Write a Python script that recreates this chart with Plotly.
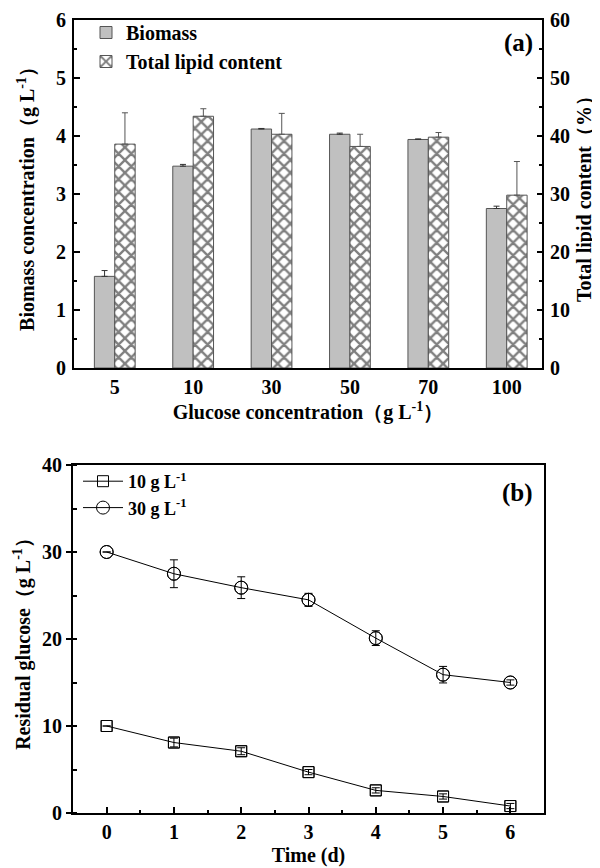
import plotly.graph_objects as go

# ---- Data: panel (a)
glucose_cats = ["5", "10", "30", "50", "70", "100"]
biomass = [1.58, 3.48, 4.12, 4.03, 3.94, 2.75]
biomass_err = [0.10, 0.03, 0.01, 0.02, 0.01, 0.04]
lipid = [38.6, 43.4, 40.3, 38.2, 39.8, 29.8]
lipid_err = [5.4, 1.3, 3.6, 2.1, 0.8, 5.8]

# ---- Data: panel (b)
days = [0, 1, 2, 3, 4, 5, 6]
glc10 = [10.0, 8.1, 7.1, 4.7, 2.6, 1.9, 0.8]
glc10_err = [0.0, 0.5, 0.4, 0.3, 0.3, 0.3, 0.3]
glc30 = [30.0, 27.5, 25.9, 24.5, 20.1, 15.9, 15.0]
glc30_err = [0.0, 1.6, 1.25, 0.75, 0.85, 0.95, 0.3]

FONT = "Liberation Serif"
fig = go.Figure()

fig.add_trace(go.Bar(
    x=glucose_cats, y=biomass, name="<b>Biomass</b>",
    xaxis="x", yaxis="y", width=0.26, offset=-0.26,
    marker=dict(color="#c0c0c0", line=dict(color="#555555", width=1)),
    error_y=dict(type="data", array=biomass_err, arrayminus=[0]*6, symmetric=False,
                 color="#333333", thickness=1, width=3),
    legend="legend",
))
fig.add_trace(go.Bar(
    x=glucose_cats, y=lipid, name="<b>Total lipid content</b>",
    xaxis="x", yaxis="y2", width=0.26, offset=0,
    marker=dict(color="white", line=dict(color="#555555", width=1),
                pattern=dict(shape="x", fgcolor="black", bgcolor="white", size=9, solidity=0.45)),
    error_y=dict(type="data", array=lipid_err, arrayminus=[0]*6, symmetric=False,
                 color="#555555", thickness=1, width=3),
    legend="legend",
))

# error bars as separate (legend-less) traces so the legend symbols stay clean
for yv, ev, sym, sz in [(glc10, glc10_err, "square-open", 11), (glc30, glc30_err, "circle-open", 13)]:
    fig.add_trace(go.Scatter(
        x=days, y=yv, mode="markers", showlegend=False, hoverinfo="skip",
        xaxis="x2", yaxis="y3",
        marker=dict(symbol=sym, size=sz, color="black", line=dict(width=1)),
        error_y=dict(type="data", array=ev, color="black", thickness=1, width=4),
    ))

fig.add_trace(go.Scatter(
    x=days, y=glc10, name="<b>10 g L<sup>-1</sup></b>", mode="lines+markers",
    xaxis="x2", yaxis="y3",
    line=dict(color="black", width=1),
    marker=dict(symbol="square-open", size=11, color="black", line=dict(width=1)),
    legend="legend2",
))
fig.add_trace(go.Scatter(
    x=days, y=glc30, name="<b>30 g L<sup>-1</sup></b>", mode="lines+markers",
    xaxis="x2", yaxis="y3",
    line=dict(color="black", width=1),
    marker=dict(symbol="circle-open", size=13, color="black", line=dict(width=1)),
    legend="legend2",
))

H = 868.0
W = 600.0
top_dom = [1 - 360 / H, 1 - 12 / H]
bot_dom = [1 - 805 / H, 1 - 457 / H]

tickfont = dict(family=FONT, size=20, color="black", weight="bold")
titlefont = dict(family=FONT, size=20, color="black", weight="bold")

fig.update_layout(
    width=600, height=868,
    margin=dict(l=0, r=0, t=0, b=0),
    paper_bgcolor="white", plot_bgcolor="white",
    barmode="overlay",
    font=dict(family=FONT, color="black"),
    xaxis=dict(
        domain=[66 / W, 534 / W], anchor="y", type="category",
        range=[-0.52, 5.45],
        showline=True, linecolor="black", linewidth=2, mirror=True,
        ticks="", showgrid=False, tickfont=tickfont,
        title=dict(text="<b>Glucose concentration（g L<sup>-1</sup>）</b>", font=titlefont, standoff=8),
        automargin=False,
    ),
    yaxis=dict(
        domain=top_dom, anchor="x", range=[0, 6], dtick=1,
        showline=True, linecolor="black", linewidth=2,
        ticks="inside", ticklen=6, tickwidth=2, tickcolor="black",
        minor=dict(dtick=0.5, ticks="inside", ticklen=3, tickcolor="black", tickwidth=2),
        showgrid=False, zeroline=False, tickfont=tickfont, ticklabelstandoff=2,
        title=dict(text="<b>Biomass concentration（g L<sup>-1</sup>）</b>", font=titlefont, standoff=16),
        automargin=False,
    ),
    yaxis2=dict(
        overlaying="y", side="right", anchor="x", range=[0, 60], dtick=10,
        showline=True, linecolor="black", linewidth=2,
        ticks="inside", ticklen=5, tickwidth=2, tickcolor="black",
        minor=dict(dtick=5, ticks="inside", ticklen=3, tickcolor="black", tickwidth=2),
        showgrid=False, zeroline=False, tickfont=tickfont, ticklabelstandoff=2,
        title=dict(text="<b>Total lipid content（%）</b>", font=titlefont, standoff=8),
        automargin=False,
    ),
    xaxis2=dict(
        domain=[65 / W, 536 / W], anchor="y3", range=[-0.5, 6.5], dtick=1,
        showline=True, linecolor="black", linewidth=2, mirror=True,
        ticks="inside", ticklen=6, tickwidth=2, tickcolor="black",
        minor=dict(dtick=0.5, ticks="inside", ticklen=3, tickcolor="black", tickwidth=2),
        showgrid=False, zeroline=False, tickfont=tickfont,
        title=dict(text="<b>Time (d)</b>", font=titlefont, standoff=6),
        automargin=False,
    ),
    yaxis3=dict(
        domain=bot_dom, anchor="x2", range=[0, 40], dtick=10,
        showline=True, linecolor="black", linewidth=2, mirror=True,
        ticks="outside", ticklen=5, tickwidth=2, tickcolor="black",
        minor=dict(dtick=5, ticks="inside", ticklen=4, tickcolor="black", tickwidth=2),
        showgrid=False, zeroline=False, tickfont=tickfont,
        title=dict(text="<b>Residual glucose（g L<sup>-1</sup>）</b>", font=titlefont, standoff=6),
        automargin=False,
    ),
    legend=dict(
        x=78 / W, y=1 - 5 / H, xanchor="left", yanchor="top",
        bgcolor="rgba(0,0,0,0)", font=dict(family=FONT, size=20, color="black"),
        tracegroupgap=0,
    ),
    legend2=dict(
        x=70 / W, y=1 - 455 / H, xanchor="left", yanchor="top",
        bgcolor="rgba(0,0,0,0)", font=dict(family=FONT, size=18, color="black"),
        itemwidth=40,
    ),
    showlegend=True,
    annotations=[
        dict(text="<b>(a)</b>", x=527 / W, y=1 - 35 / H, xref="paper", yref="paper",
             xanchor="right", yanchor="middle", showarrow=False,
             font=dict(family=FONT, size=25, color="black")),
        dict(text="<b>(b)</b>", x=527 / W, y=1 - 485 / H, xref="paper", yref="paper",
             xanchor="right", yanchor="middle", showarrow=False,
             font=dict(family=FONT, size=25, color="black")),
    ],
)

fig.write_html("out.html")
